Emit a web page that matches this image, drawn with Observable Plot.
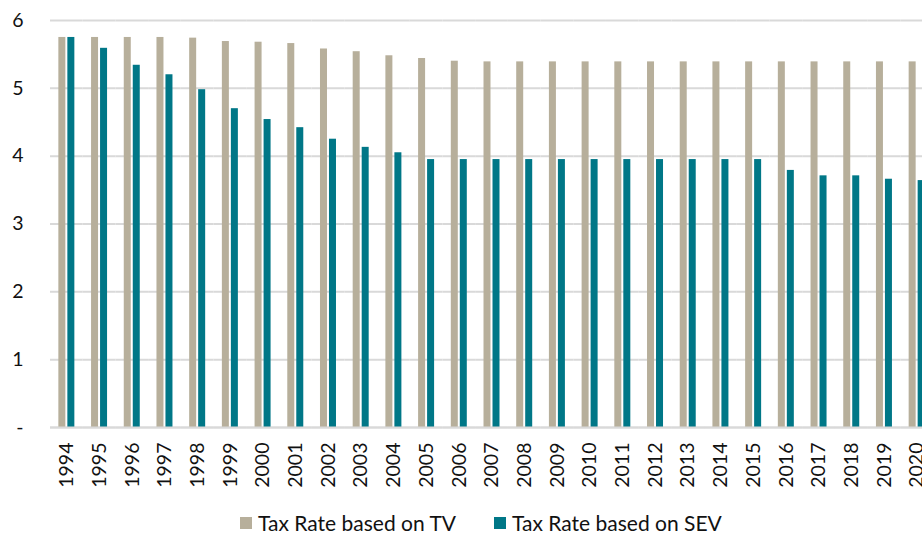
<!DOCTYPE html>
<html>
<head>
<meta charset="utf-8">
<script src="https://cdn.jsdelivr.net/npm/d3@7"></script>
<script src="https://cdn.jsdelivr.net/npm/@observablehq/plot@0.6"></script>
<style>
  html, body { margin: 0; padding: 0; background: #fff; overflow: hidden; width: 922px; height: 535px; }
  #chart { position: relative; width: 922px; height: 535px; overflow: hidden; }
  #chart svg { position: absolute; left: 0; top: 0; max-width: none !important; font-family: Lato, "Open Sans", sans-serif; }
  .legend { position: absolute; top: 510px; left: 240px; display: flex; align-items: center; font-family: Lato, "Open Sans", sans-serif; font-size: 21px; color: #111; white-space: nowrap; }
  .legend .sw { width: 12px; height: 12px; display: inline-block; margin-right: 6px; }
  .legend .item { display: flex; align-items: center; }
</style>
</head>
<body>
<div id="chart"></div>
<script>
const years = ["1994","1995","1996","1997","1998","1999","2000","2001","2002","2003","2004","2005","2006","2007","2008","2009","2010","2011","2012","2013","2014","2015","2016","2017","2018","2019","2020"];
const taxRateTV = [5.75,5.75,5.75,5.75,5.74,5.69,5.68,5.66,5.58,5.54,5.48,5.44,5.40,5.39,5.39,5.39,5.39,5.39,5.39,5.39,5.39,5.39,5.39,5.39,5.39,5.39,5.39];
const taxRateSEV = [5.75,5.59,5.34,5.20,4.98,4.70,4.54,4.42,4.25,4.13,4.05,3.95,3.95,3.95,3.95,3.95,3.95,3.95,3.95,3.95,3.95,3.95,3.79,3.71,3.71,3.66,3.64];
const seriesNames = ["Tax Rate based on TV", "Tax Rate based on SEV"];
const seriesColors = ["#B7AF9B", "#007787"];
const yTicks = [0,1,2,3,4,5,6];

const data = [];
years.forEach((y, i) => {
  data.push({year: y, series: seriesNames[0], value: taxRateTV[i]});
  data.push({year: y, series: seriesNames[1], value: taxRateSEV[i]});
});

const plot = Plot.plot({
  width: 933,
  height: 500,
  marginLeft: 50,
  marginRight: 0,
  marginTop: 20,
  marginBottom: 73,
  style: {fontFamily: "Lato, 'Open Sans', sans-serif", fontSize: "19.5px", color: "#111", maxWidth: "none"},
  fx: {domain: years, padding: 0, round: false, label: null, tickSize: 0, tickPadding: 15, tickRotate: -90},
  x: {domain: seriesNames, round: false, paddingInner: 0.222, paddingOuter: 0.928, axis: null},
  y: {domain: [0, 6], ticks: yTicks, tickSize: 0, tickPadding: 27, label: null,
      tickFormat: d => d === 0 ? "-" : String(d)},
  color: {domain: seriesNames, range: seriesColors},
  marks: [
    Plot.ruleY(yTicks, {stroke: "#d9d9d9", strokeWidth: 2}),
    Plot.barY(data, {fx: "year", x: "series", y: "value", fill: "series", inset: 0}),
    Plot.ruleY([0], {stroke: "#d9d9d9", strokeWidth: 2})
  ]
});
const chart = document.getElementById("chart");
chart.appendChild(plot);

const legend = document.createElement("div");
legend.className = "legend";
seriesNames.forEach((n, i) => {
  const item = document.createElement("span");
  item.className = "item";
  if (i > 0) item.style.marginLeft = "38px";
  const sw = document.createElement("span");
  sw.className = "sw";
  sw.style.background = seriesColors[i];
  item.appendChild(sw);
  item.appendChild(document.createTextNode(n));
  legend.appendChild(item);
});
chart.appendChild(legend);
</script>
</body>
</html>
